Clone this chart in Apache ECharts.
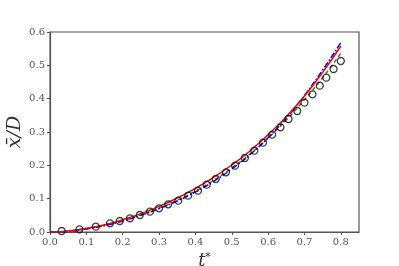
<!DOCTYPE html>
<html>
<head>
<meta charset="utf-8">
<script src="https://cdn.jsdelivr.net/npm/echarts@6/dist/echarts.min.js"></script>
<style>
html, body { margin: 0; padding: 0; background: #fff; }
#chart { width: 399px; height: 266px; }
</style>
</head>
<body>
<div id="chart"></div>
<script>
// 时间轴与各曲线数据
var tLine = [0, 0.05, 0.1, 0.15, 0.2, 0.25, 0.3, 0.35, 0.4, 0.45, 0.5, 0.55, 0.6, 0.65, 0.7, 0.75, 0.8];
var redVals = [0, 0.003, 0.011, 0.022, 0.037, 0.055, 0.077, 0.102, 0.131, 0.164, 0.201, 0.243, 0.292, 0.346, 0.408, 0.479, 0.558];
var blueVals = [0, 0.002, 0.009, 0.019, 0.033, 0.050, 0.070, 0.093, 0.120, 0.152, 0.189, 0.232, 0.283, 0.342, 0.410, 0.486, 0.568];
var greenVals = [0, 0.002, 0.010, 0.020, 0.034, 0.052, 0.072, 0.095, 0.123, 0.155, 0.192, 0.234, 0.282, 0.336, 0.397, 0.463, 0.536];

// 实验点
var tExp = [0.032, 0.081, 0.126, 0.165, 0.192, 0.22, 0.247, 0.275, 0.30, 0.325, 0.353, 0.38, 0.407,
    0.431, 0.456, 0.484, 0.509, 0.536, 0.562, 0.586, 0.611, 0.634, 0.656, 0.68, 0.70, 0.722, 0.742, 0.76, 0.78, 0.80];
var xExp = [0.003, 0.008, 0.016, 0.026, 0.033, 0.041, 0.051, 0.061, 0.071, 0.083, 0.094, 0.109, 0.124,
    0.142, 0.159, 0.179, 0.199, 0.222, 0.244, 0.268, 0.292, 0.314, 0.339, 0.363, 0.388, 0.413, 0.439, 0.463, 0.489, 0.513];

var xTicks = [0, 0.1, 0.2, 0.3, 0.4, 0.5, 0.6, 0.7, 0.8];
var yTicks = [0, 0.1, 0.2, 0.3, 0.4, 0.5, 0.6];

function pairs(xs, ys) {
    return xs.map(function (x, i) { return [x, ys[i]]; });
}

var chart = echarts.init(document.getElementById('chart'));
var font = 'DejaVu Serif';
var option = {
    animation: false,
    grid: {
        left: 50, top: 32, right: 40, bottom: 34,
        outerBoundsMode: 'none',
        show: true, borderColor: '#555', borderWidth: 1.2, backgroundColor: '#fff'
    },
    xAxis: {
        type: 'value', min: 0, max: 0.85,
        name: '{t|t}{s|*}', nameLocation: 'middle', nameGap: 17,
        nameTextStyle: {
            rich: {
                t: { fontFamily: font, fontStyle: 'italic', fontSize: 18, color: '#333' },
                s: { fontFamily: font, fontSize: 11, color: '#333', verticalAlign: 'top', padding: [0, 0, 8, 0] }
            }
        },
        axisLine: { show: true, lineStyle: { color: '#555', width: 1.2 } },
        axisTick: { show: true, length: 3, customValues: xTicks, lineStyle: { color: '#555' } },
        axisLabel: {
            customValues: xTicks, fontFamily: font, fontSize: 10, color: '#555', margin: 5,
            formatter: function (v) { return v.toFixed(1); }
        },
        splitLine: { show: false }
    },
    yAxis: {
        type: 'value', min: 0, max: 0.6, interval: 0.1,
        name: 'x\u0304/D', nameLocation: 'middle', nameGap: 25, nameRotate: 90,
        nameMoveOverlap: false,
        nameTextStyle: { fontFamily: font, fontStyle: 'italic', fontSize: 19, color: '#333' },
        axisLine: { show: true, lineStyle: { color: '#555', width: 1.2 } },
        axisTick: { show: true, length: 3, customValues: yTicks, lineStyle: { color: '#555' } },
        axisLabel: {
            customValues: yTicks, fontFamily: font, fontSize: 10, color: '#555', margin: 5,
            formatter: function (v) { return v.toFixed(1); }
        },
        splitLine: { show: false }
    },
    series: [
        {
            type: 'line', data: pairs(tLine, greenVals), smooth: true, showSymbol: false,
            lineStyle: { color: '#1a8a1a', width: 1.5, type: [4, 3] }
        },
        {
            type: 'line', data: pairs(tLine, blueVals), smooth: true, showSymbol: false,
            lineStyle: { color: '#0000ff', width: 1.5, type: [6, 2, 1.5, 2] }
        },
        {
            type: 'line', data: pairs(tLine, redVals), smooth: true, showSymbol: false,
            lineStyle: { color: '#ff0000', width: 1.5 }
        },
        {
            type: 'scatter', data: pairs(tExp, xExp), symbol: 'circle', symbolSize: 7,
            itemStyle: { color: 'rgba(0,0,0,0)', borderColor: '#111', borderWidth: 1.3 },
            z: 5
        }
    ]
};
chart.setOption(option);
</script>
</body>
</html>
